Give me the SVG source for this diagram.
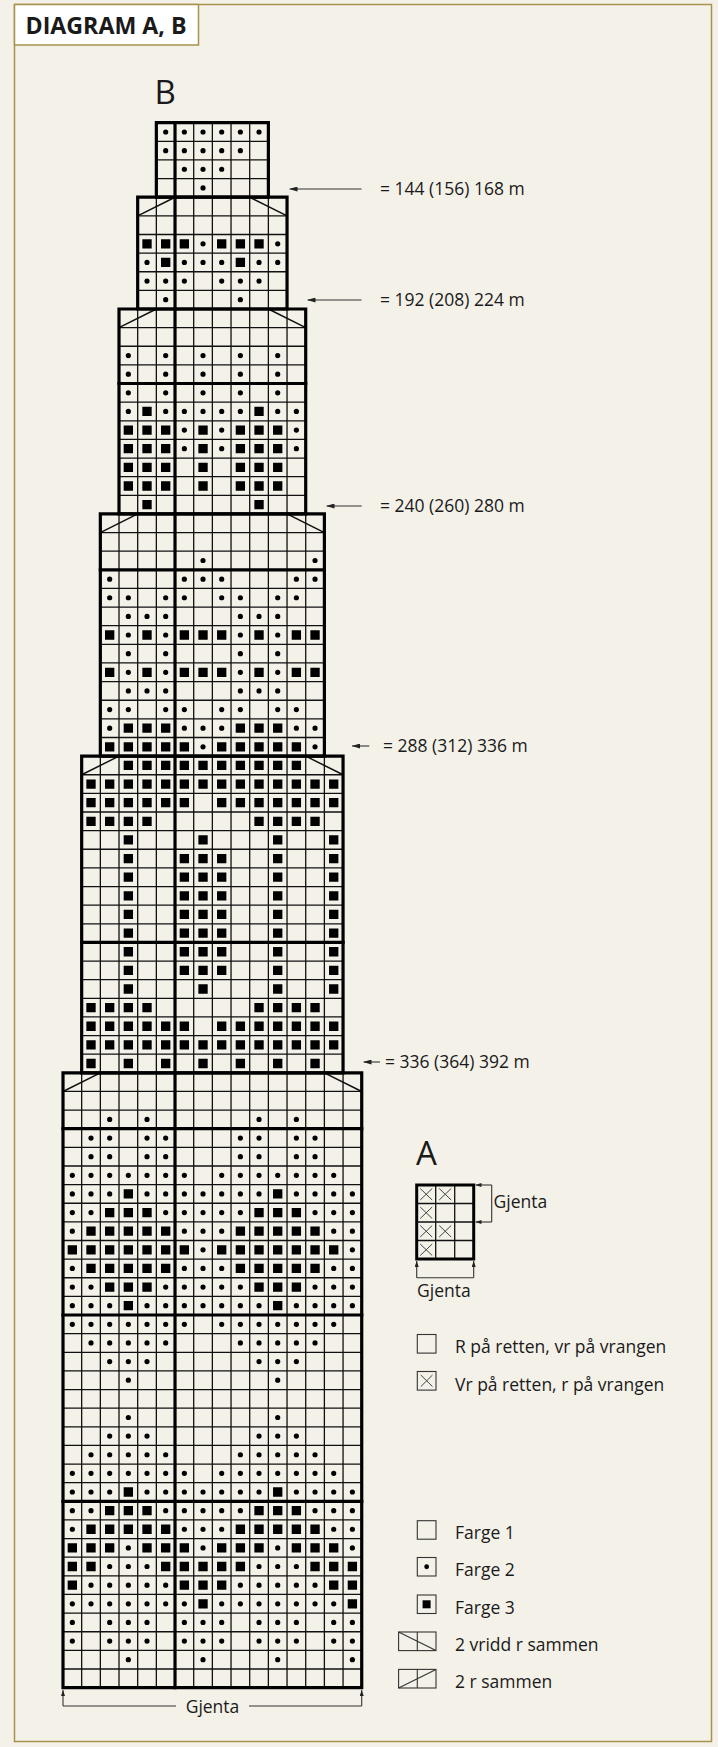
<svg xmlns="http://www.w3.org/2000/svg" width="718" height="1747" viewBox="0 0 718 1747">
<defs>
<style>
.t{font-family:"Open Sans","Liberation Sans",sans-serif;fill:#1a1a1a;font-size:17.5px}
.thin{fill:none;stroke:#111;stroke-width:1.3}
.thick{fill:none;stroke:#000;stroke-width:3.2;stroke-linecap:square}
.diag{fill:none;stroke:#111;stroke-width:1.5}
.dots{fill:none;stroke:#000;stroke-width:5.2;stroke-linecap:round}
.sq{fill:none;stroke:#000;stroke-width:9.3;stroke-linecap:butt}
.arr{fill:none;stroke:#333;stroke-width:1.1}
.lg{fill:none;stroke:#333;stroke-width:1.1}
</style>
<marker id="ah" viewBox="0 0 8 5" refX="8" refY="2.5" markerWidth="8" markerHeight="5" orient="auto" markerUnits="userSpaceOnUse"><path d="M0 0L8 2.5L0 5z" fill="#222"/></marker>
<marker id="ahs" viewBox="0 0 6 4" refX="6" refY="2" markerWidth="6" markerHeight="4" orient="auto" markerUnits="userSpaceOnUse"><path d="M0 0L6 2L0 4z" fill="#222"/></marker>
</defs>
<rect x="0" y="0" width="718" height="1747" fill="#f4f1e9"/>
<rect x="14.5" y="4.5" width="697" height="1737" fill="#f4f1e9" stroke="#a8924e" stroke-width="1.5"/>
<g id="title">
<rect x="14.5" y="4.5" width="184" height="40.5" fill="#ffffff" stroke="#a8924e" stroke-width="1.5"/>
<text class="t" x="25.5" y="33.5" style="font-size:23px;font-weight:700" textLength="161" lengthAdjust="spacingAndGlyphs">DIAGRAM A, B</text>
</g>
<text class="t" x="154.5" y="104" style="font-size:33px">B</text>
<g id="chartB" transform="translate(63 122.7) scale(18.67 18.63)">
<path class="thin" vector-effect="non-scaling-stroke" d="M5 1H11M5 2H11M5 3H11M4 5H12M4 6H12M4 7H12M4 8H12M4 9H12M3 11H13M3 12H13M3 13H13M3 14H13M3 15H13M3 16H13M3 17H13M3 18H13M3 19H13M3 20H13M2 22H14M2 23H14M2 24H14M2 25H14M2 26H14M2 27H14M2 28H14M2 29H14M2 30H14M2 31H14M2 32H14M2 33H14M1 35H15M1 36H15M1 37H15M1 38H15M1 39H15M1 40H15M1 41H15M1 42H15M1 43H15M1 44H15M1 45H15M1 46H15M1 47H15M1 48H15M1 49H15M1 50H15M0 52H16M0 53H16M0 54H16M0 55H16M0 56H16M0 57H16M0 58H16M0 59H16M0 60H16M0 61H16M0 62H16M0 63H16M0 64H16M0 65H16M0 66H16M0 67H16M0 68H16M0 69H16M0 70H16M0 71H16M0 72H16M0 73H16M0 74H16M0 75H16M0 76H16M0 77H16M0 78H16M0 79H16M0 80H16M0 81H16M0 82H16M0 83H16"/>
<path class="thin" vector-effect="non-scaling-stroke" d="M1 51V84M15 51V84M2 34V84M14 34V84M3 21V84M13 21V84M4 10V84M12 10V84M5 4V84M11 4V84M7 0V84M8 0V84M9 0V84M10 0V84"/>
<path class="diag" vector-effect="non-scaling-stroke" d="M4 5L6 4M10 4L12 5M3 11L5 10M11 10L13 11M2 22L4 21M12 21L14 22M1 35L3 34M13 34L15 35M0 52L2 51M14 51L16 52"/>
<g id="sections" class="thick">
<rect x="5" y="0" width="6" height="4" vector-effect="non-scaling-stroke"/>
<rect x="4" y="4" width="8" height="6" vector-effect="non-scaling-stroke"/>
<rect x="3" y="10" width="10" height="11" vector-effect="non-scaling-stroke"/>
<rect x="2" y="21" width="12" height="13" vector-effect="non-scaling-stroke"/>
<rect x="1" y="34" width="14" height="17" vector-effect="non-scaling-stroke"/>
<rect x="0" y="51" width="16" height="33" vector-effect="non-scaling-stroke"/>
<path vector-effect="non-scaling-stroke" d="M6 0V84M3 14H13M2 24H14M1 44H15M0 54H16M0 64H16M0 74H16"/>
</g>
<path id="farge2" class="dots" vector-effect="non-scaling-stroke" d="M5.5 .5h0m1 0h0m1 0h0m1 0h0m1 0h0m1 0h0M5.5 1.5h0m1 0h0m1 0h0m1 0h0m1 0h0M6.5 2.5h0m1 0h0m1 0h0M7.5 3.5h0M7.5 6.5h0m4 0h0M4.5 7.5h0m2 0h0m1 0h0m1 0h0m2 0h0m1 0h0M4.5 8.5h0m1 0h0m1 0h0m2 0h0m1 0h0m1 0h0M5.5 9.5h0m4 0h0M3.5 12.5h0m2 0h0m2 0h0m2 0h0m2 0h0M3.5 13.5h0m2 0h0m2 0h0m2 0h0m2 0h0M3.5 14.5h0m2 0h0m2 0h0m2 0h0m2 0h0M3.5 15.5h0m2 0h0m1 0h0m1 0h0m1 0h0m1 0h0m2 0h0m1 0h0M6.5 16.5h0m2 0h0m4 0h0M6.5 17.5h0m2 0h0m4 0h0M7.5 23.5h0m6 0h0M2.5 24.5h0m4 0h0m1 0h0m1 0h0m4 0h0m1 0h0M2.5 25.5h0m1 0h0m2 0h0m1 0h0m2 0h0m1 0h0m2 0h0m1 0h0M3.5 26.5h0m1 0h0m1 0h0m4 0h0m1 0h0m1 0h0M3.5 27.5h0m2 0h0m4 0h0m2 0h0M3.5 28.5h0m2 0h0m4 0h0m2 0h0M3.5 29.5h0m2 0h0m4 0h0m2 0h0M3.5 30.5h0m1 0h0m1 0h0m4 0h0m1 0h0m1 0h0M2.5 31.5h0m1 0h0m2 0h0m1 0h0m2 0h0m1 0h0m2 0h0m1 0h0M2.5 32.5h0m4 0h0m1 0h0m1 0h0m4 0h0m1 0h0M7.5 33.5h0m6 0h0M2.5 53.5h0m2 0h0m6 0h0m2 0h0M1.5 54.5h0m1 0h0m2 0h0m1 0h0m4 0h0m1 0h0m2 0h0m1 0h0M1.5 55.5h0m1 0h0m2 0h0m1 0h0m4 0h0m1 0h0m2 0h0m1 0h0M.5 56.5h0m1 0h0m1 0h0m1 0h0m1 0h0m1 0h0m1 0h0m2 0h0m1 0h0m1 0h0m1 0h0m1 0h0m1 0h0m1 0h0M.5 57.5h0m1 0h0m1 0h0m2 0h0m1 0h0m1 0h0m1 0h0m1 0h0m1 0h0m1 0h0m2 0h0m1 0h0m1 0h0m1 0h0M.5 58.5h0m1 0h0m4 0h0m1 0h0m1 0h0m1 0h0m1 0h0m4 0h0m1 0h0m1 0h0M.5 59.5h0m6 0h0m1 0h0m1 0h0m6 0h0m1 0h0M7.5 60.5h0m8 0h0M.5 61.5h0m6 0h0m1 0h0m1 0h0m6 0h0m1 0h0M.5 62.5h0m1 0h0m4 0h0m1 0h0m1 0h0m1 0h0m1 0h0m4 0h0m1 0h0m1 0h0M.5 63.5h0m1 0h0m1 0h0m2 0h0m1 0h0m1 0h0m1 0h0m1 0h0m1 0h0m1 0h0m2 0h0m1 0h0m1 0h0m1 0h0M.5 64.5h0m1 0h0m1 0h0m1 0h0m1 0h0m1 0h0m1 0h0m2 0h0m1 0h0m1 0h0m1 0h0m1 0h0m1 0h0m1 0h0M1.5 65.5h0m1 0h0m1 0h0m1 0h0m1 0h0m4 0h0m1 0h0m1 0h0m1 0h0m1 0h0M2.5 66.5h0m1 0h0m1 0h0m6 0h0m1 0h0m1 0h0M3.5 67.5h0m8 0h0M3.5 69.5h0m8 0h0M2.5 70.5h0m1 0h0m1 0h0m6 0h0m1 0h0m1 0h0M1.5 71.5h0m1 0h0m1 0h0m1 0h0m1 0h0m4 0h0m1 0h0m1 0h0m1 0h0m1 0h0M.5 72.5h0m1 0h0m1 0h0m1 0h0m1 0h0m1 0h0m1 0h0m2 0h0m1 0h0m1 0h0m1 0h0m1 0h0m1 0h0m1 0h0M.5 73.5h0m1 0h0m1 0h0m2 0h0m1 0h0m1 0h0m1 0h0m1 0h0m1 0h0m1 0h0m2 0h0m1 0h0m1 0h0m1 0h0M.5 74.5h0m1 0h0m4 0h0m1 0h0m1 0h0m1 0h0m1 0h0m4 0h0m1 0h0m1 0h0M.5 75.5h0m6 0h0m1 0h0m1 0h0m6 0h0m1 0h0M3.5 76.5h0m4 0h0m4 0h0m4 0h0M2.5 77.5h0m1 0h0m1 0h0m6 0h0m1 0h0m1 0h0M1.5 78.5h0m1 0h0m1 0h0m1 0h0m1 0h0m4 0h0m1 0h0m1 0h0m1 0h0m1 0h0M.5 79.5h0m1 0h0m1 0h0m1 0h0m1 0h0m1 0h0m1 0h0m2 0h0m1 0h0m1 0h0m1 0h0m1 0h0m1 0h0m1 0h0M.5 80.5h0m2 0h0m1 0h0m1 0h0m2 0h0m1 0h0m1 0h0m2 0h0m1 0h0m1 0h0m2 0h0m1 0h0M.5 81.5h0m2 0h0m1 0h0m1 0h0m2 0h0m1 0h0m1 0h0m2 0h0m1 0h0m1 0h0m2 0h0m1 0h0M3.5 82.5h0m4 0h0m4 0h0m4 0h0"/>
<path id="farge3" class="sq" vector-effect="non-scaling-stroke" d="M4.25 6.5h.5m.5 0h.5m.5 0h.5m1.5 0h.5m.5 0h.5m.5 0h.5M5.25 7.5h.5m3.5 0h.5M4.25 15.5h.5m5.5 0h.5M3.25 16.5h.5m.5 0h.5m.5 0h.5m1.5 0h.5m1.5 0h.5m.5 0h.5m.5 0h.5M3.25 17.5h.5m.5 0h.5m.5 0h.5m1.5 0h.5m1.5 0h.5m.5 0h.5m.5 0h.5M3.25 18.5h.5m.5 0h.5m.5 0h.5m1.5 0h.5m1.5 0h.5m.5 0h.5m.5 0h.5M3.25 19.5h.5m.5 0h.5m.5 0h.5m1.5 0h.5m1.5 0h.5m.5 0h.5m.5 0h.5M4.25 20.5h.5m5.5 0h.5M2.25 27.5h.5m1.5 0h.5m1.5 0h.5m.5 0h.5m.5 0h.5m1.5 0h.5m1.5 0h.5m.5 0h.5M2.25 29.5h.5m1.5 0h.5m1.5 0h.5m.5 0h.5m.5 0h.5m1.5 0h.5m1.5 0h.5m.5 0h.5M3.25 32.5h.5m.5 0h.5m.5 0h.5m3.5 0h.5m.5 0h.5m.5 0h.5M2.25 33.5h.5m.5 0h.5m.5 0h.5m.5 0h.5m.5 0h.5m1.5 0h.5m.5 0h.5m.5 0h.5m.5 0h.5m.5 0h.5M3.25 34.5h.5m.5 0h.5m.5 0h.5m.5 0h.5m.5 0h.5m.5 0h.5m.5 0h.5m.5 0h.5m.5 0h.5m.5 0h.5M1.25 35.5h.5m.5 0h.5m.5 0h.5m.5 0h.5m.5 0h.5m.5 0h.5m.5 0h.5m.5 0h.5m.5 0h.5m.5 0h.5m.5 0h.5m.5 0h.5m.5 0h.5m.5 0h.5M1.25 36.5h.5m.5 0h.5m.5 0h.5m.5 0h.5m.5 0h.5m.5 0h.5m1.5 0h.5m.5 0h.5m.5 0h.5m.5 0h.5m.5 0h.5m.5 0h.5m.5 0h.5M1.25 37.5h.5m.5 0h.5m.5 0h.5m.5 0h.5m5.5 0h.5m.5 0h.5m.5 0h.5m.5 0h.5M3.25 38.5h.5m3.5 0h.5m3.5 0h.5m2.5 0h.5M3.25 39.5h.5m2.5 0h.5m.5 0h.5m.5 0h.5m2.5 0h.5m2.5 0h.5M3.25 40.5h.5m2.5 0h.5m.5 0h.5m.5 0h.5m2.5 0h.5m2.5 0h.5M3.25 41.5h.5m2.5 0h.5m.5 0h.5m.5 0h.5m2.5 0h.5m2.5 0h.5M3.25 42.5h.5m2.5 0h.5m.5 0h.5m.5 0h.5m2.5 0h.5m2.5 0h.5M3.25 43.5h.5m2.5 0h.5m.5 0h.5m.5 0h.5m2.5 0h.5m2.5 0h.5M3.25 44.5h.5m2.5 0h.5m.5 0h.5m.5 0h.5m2.5 0h.5m2.5 0h.5M3.25 45.5h.5m2.5 0h.5m.5 0h.5m.5 0h.5m2.5 0h.5m2.5 0h.5M3.25 46.5h.5m3.5 0h.5m3.5 0h.5m2.5 0h.5M1.25 47.5h.5m.5 0h.5m.5 0h.5m.5 0h.5m5.5 0h.5m.5 0h.5m.5 0h.5m.5 0h.5M1.25 48.5h.5m.5 0h.5m.5 0h.5m.5 0h.5m.5 0h.5m.5 0h.5m1.5 0h.5m.5 0h.5m.5 0h.5m.5 0h.5m.5 0h.5m.5 0h.5m.5 0h.5M1.25 49.5h.5m.5 0h.5m.5 0h.5m.5 0h.5m.5 0h.5m.5 0h.5m.5 0h.5m.5 0h.5m.5 0h.5m.5 0h.5m.5 0h.5m.5 0h.5m.5 0h.5m.5 0h.5M1.25 50.5h.5m1.5 0h.5m1.5 0h.5m1.5 0h.5m1.5 0h.5m1.5 0h.5m1.5 0h.5M3.25 57.5h.5m7.5 0h.5M2.25 58.5h.5m.5 0h.5m.5 0h.5m5.5 0h.5m.5 0h.5m.5 0h.5M1.25 59.5h.5m.5 0h.5m.5 0h.5m.5 0h.5m.5 0h.5m3.5 0h.5m.5 0h.5m.5 0h.5m.5 0h.5m.5 0h.5M.25 60.5h.5m.5 0h.5m.5 0h.5m.5 0h.5m.5 0h.5m.5 0h.5m.5 0h.5m1.5 0h.5m.5 0h.5m.5 0h.5m.5 0h.5m.5 0h.5m.5 0h.5m.5 0h.5M1.25 61.5h.5m.5 0h.5m.5 0h.5m.5 0h.5m.5 0h.5m3.5 0h.5m.5 0h.5m.5 0h.5m.5 0h.5m.5 0h.5M2.25 62.5h.5m.5 0h.5m.5 0h.5m5.5 0h.5m.5 0h.5m.5 0h.5M3.25 63.5h.5m7.5 0h.5M3.25 73.5h.5m7.5 0h.5M2.25 74.5h.5m.5 0h.5m.5 0h.5m5.5 0h.5m.5 0h.5m.5 0h.5M1.25 75.5h.5m.5 0h.5m.5 0h.5m.5 0h.5m.5 0h.5m3.5 0h.5m.5 0h.5m.5 0h.5m.5 0h.5m.5 0h.5M.25 76.5h.5m.5 0h.5m.5 0h.5m1.5 0h.5m.5 0h.5m.5 0h.5m1.5 0h.5m.5 0h.5m.5 0h.5m1.5 0h.5m.5 0h.5m.5 0h.5M.25 77.5h.5m.5 0h.5m3.5 0h.5m.5 0h.5m.5 0h.5m.5 0h.5m.5 0h.5m3.5 0h.5m.5 0h.5m.5 0h.5M.25 78.5h.5m5.5 0h.5m.5 0h.5m.5 0h.5m5.5 0h.5m.5 0h.5M7.25 79.5h.5m7.5 0h.5"/>
</g>
<g id="connectors">
<path class="arr" marker-end="url(#ah)" d="M361.5 189H289.5"/>
<path class="arr" marker-end="url(#ah)" d="M361.5 300H307.5"/>
<path class="arr" marker-end="url(#ah)" d="M361.7 506H326.5"/>
<path class="arr" marker-end="url(#ah)" d="M369.3 746H352"/>
<path class="arr" marker-end="url(#ah)" d="M380 1062H363.5"/>
<path class="arr" marker-end="url(#ahs)" d="M63 1706V1690"/>
<path class="arr" marker-end="url(#ahs)" d="M361.7 1706V1690"/>
<path class="arr" d="M63 1706H176M249 1706H361.7"/>
</g>
<g id="labels">
<text class="t" x="380" y="195.3">= 144 (156) 168 m</text>
<text class="t" x="380" y="306.3">= 192 (208) 224 m</text>
<text class="t" x="380" y="512.3">= 240 (260) 280 m</text>
<text class="t" x="383" y="752.3">= 288 (312) 336 m</text>
<text class="t" x="385" y="1068.3">= 336 (364) 392 m</text>
<text class="t" x="212.5" y="1712.5" text-anchor="middle">Gjenta</text>
</g>
<g id="chartA">
<text class="t" x="416" y="1165" style="font-size:33px">A</text>
<path class="thin" d="M435.7 1185V1259M454.7 1185V1259M416.7 1203.5H473.7M416.7 1222H473.7M416.7 1240.5H473.7"/>
<path fill="none" stroke="#444" stroke-width="1" d="M420.2 1188.5L432.2 1200M432.2 1188.5L420.2 1200M439.2 1188.5L451.2 1200M451.2 1188.5L439.2 1200M420.2 1207L432.2 1218.5M432.2 1207L420.2 1218.5M420.2 1225.5L432.2 1237M432.2 1225.5L420.2 1237M439.2 1225.5L451.2 1237M451.2 1225.5L439.2 1237M420.2 1244L432.2 1255.5M432.2 1244L420.2 1255.5"/>
<rect x="416.7" y="1185" width="57" height="74" fill="none" stroke="#000" stroke-width="3"/>
<path class="arr" d="M491.7 1185V1222"/>
<path class="arr" marker-end="url(#ahs)" d="M491.7 1185H475.5"/>
<path class="arr" marker-end="url(#ahs)" d="M491.7 1222H475.5"/>
<text class="t" x="493.5" y="1208">Gjenta</text>
<path class="arr" marker-end="url(#ahs)" d="M416.7 1277.7V1261"/>
<path class="arr" marker-end="url(#ahs)" d="M473.7 1277.7V1261"/>
<path class="arr" d="M416.7 1277.7H473.7"/>
<text class="t" x="417" y="1297">Gjenta</text>
</g>
<g id="legend">
<rect class="lg" x="417.3" y="1334.5" width="18.7" height="18.6"/>
<text class="t" x="455" y="1353">R på retten, vr på vrangen</text>
<rect class="lg" x="417.3" y="1371.5" width="18.7" height="18.6"/>
<path fill="none" stroke="#444" stroke-width="1" d="M420.8 1375L432.5 1386.6M432.5 1375L420.8 1386.6"/>
<text class="t" x="455" y="1390.5">Vr på retten, r på vrangen</text>
<rect class="lg" x="417.3" y="1520.7" width="18.7" height="18.5"/>
<text class="t" x="455" y="1539">Farge 1</text>
<rect class="lg" x="417.3" y="1557.5" width="18.7" height="18.5"/>
<circle cx="426.65" cy="1566.75" r="2.4" fill="#000"/>
<text class="t" x="455" y="1575.6">Farge 2</text>
<rect class="lg" x="417.3" y="1595" width="18.7" height="18.5"/>
<rect x="422.6" y="1600.3" width="8" height="8" fill="#000"/>
<text class="t" x="455" y="1613.6">Farge 3</text>
<rect class="lg" x="398.6" y="1632" width="37.4" height="18.6"/>
<path class="lg" d="M417.3 1632V1650.6M398.6 1632L436 1650.6"/>
<text class="t" x="455" y="1651.2">2 vridd r sammen</text>
<rect class="lg" x="398.6" y="1669.4" width="37.4" height="18.6"/>
<path class="lg" d="M417.3 1669.4V1688M398.6 1688L436 1669.4"/>
<text class="t" x="455" y="1688">2 r sammen</text>
</g>
</svg>
